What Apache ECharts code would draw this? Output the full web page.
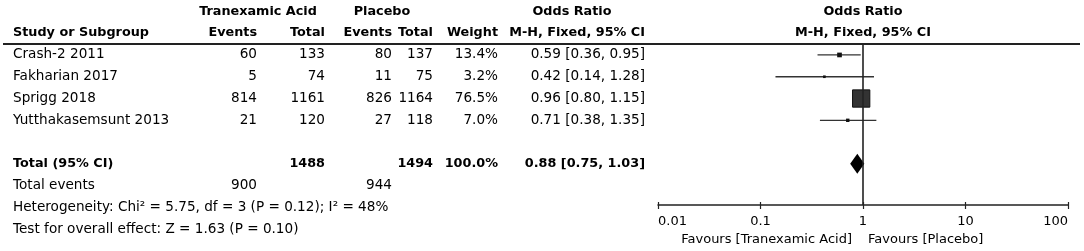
<!DOCTYPE html>
<html>
<head>
<meta charset="utf-8">
<script src="https://cdn.jsdelivr.net/npm/echarts@6/dist/echarts.min.js"></script>
<style>
html,body{margin:0;padding:0;background:#fff;}
#chart{width:1084px;height:251px;}
</style>
</head>
<body>
<div id="chart"></div>
<script>
// ---------- data ----------
const studies = ['Crash-2 2011', 'Fakharian 2017', 'Sprigg 2018', 'Yutthakasemsunt 2013'];
const txaEvents = [60, 5, 814, 21];
const txaTotal = [133, 74, 1161, 120];
const plaEvents = [80, 11, 826, 27];
const plaTotal = [137, 75, 1164, 118];
const weights = [13.4, 3.2, 76.5, 7.0];
const orValues = [0.59, 0.42, 0.96, 0.71];
const ciLow = [0.36, 0.14, 0.80, 0.38];
const ciHigh = [0.95, 1.28, 1.15, 1.35];
const totalLabel = 'Total (95% CI)';
const totalTxa = 1488;
const totalPla = 1494;
const totalWeight = 100.0;
const totalOR = [0.88, 0.75, 1.03];
const totalEventsTxa = 900;
const totalEventsPla = 944;
const heterogeneityText = 'Heterogeneity: Chi\u00b2 = 5.75, df = 3 (P = 0.12); I\u00b2 = 48%';
const overallText = 'Test for overall effect: Z = 1.63 (P = 0.10)';
const xTickLabels = ['0.01', '0.1', '1', '10', '100'];
const favoursLeft = 'Favours [Tranexamic Acid]';
const favoursRight = 'Favours [Placebo]';

// ---------- layout ----------
const FONT = '"DejaVu Sans", sans-serif';
const FS = 13.6, FSB = 12.8, FS_PLOT = 13;
const COL = { study: 13, txaE: 257, txaT: 325, plaE: 392, plaT: 433, wt: 498, or: 645, plotMid: 863, favL: 852, favR: 868 };
const ROW_TOTAL = 5, ROW_TE = 6, ROW_HET = 7, ROW_TEST = 8, ROW_FAV = 8.47;
const Y_MIN = -2.5, Y_MAX_TABLE = 9;
const PX_PER_ROW = 250.5 / (Y_MAX_TABLE - Y_MIN);
const PLOT_BOTTOM = 46;
const Y_MAX_PLOT = Y_MIN + (251 - 0.5 - PLOT_BOTTOM) / PX_PER_ROW;

const f2 = v => v.toFixed(2);
const orText = (o, l, h) => `${f2(o)} [${f2(l)}, ${f2(h)}]`;

const cells = [];
function cell(x, row, text, align, bold, size) { cells.push({ x, row, text: String(text), align, bold: !!bold, size }); }
// headers
cell(258, -2, 'Tranexamic Acid', 'center', true);
cell(382, -2, 'Placebo', 'center', true);
cell(572, -2, 'Odds Ratio', 'center', true);
cell(COL.plotMid, -2, 'Odds Ratio', 'center', true);
cell(COL.study, -1, 'Study or Subgroup', 'left', true);
cell(COL.txaE, -1, 'Events', 'right', true);
cell(COL.txaT, -1, 'Total', 'right', true);
cell(COL.plaE, -1, 'Events', 'right', true);
cell(COL.plaT, -1, 'Total', 'right', true);
cell(COL.wt, -1, 'Weight', 'right', true);
cell(COL.or, -1, 'M-H, Fixed, 95% CI', 'right', true);
cell(COL.plotMid, -1, 'M-H, Fixed, 95% CI', 'center', true);
studies.forEach((s, i) => {
  cell(COL.study, i, s, 'left');
  cell(COL.txaE, i, txaEvents[i], 'right');
  cell(COL.txaT, i, txaTotal[i], 'right');
  cell(COL.plaE, i, plaEvents[i], 'right');
  cell(COL.plaT, i, plaTotal[i], 'right');
  cell(COL.wt, i, weights[i].toFixed(1) + '%', 'right');
  cell(COL.or, i, orText(orValues[i], ciLow[i], ciHigh[i]), 'right');
});
cell(COL.study, ROW_TOTAL, totalLabel, 'left', true);
cell(COL.txaT, ROW_TOTAL, totalTxa, 'right', true);
cell(COL.plaT, ROW_TOTAL, totalPla, 'right', true);
cell(COL.wt, ROW_TOTAL, totalWeight.toFixed(1) + '%', 'right', true);
cell(COL.or, ROW_TOTAL, orText(totalOR[0], totalOR[1], totalOR[2]), 'right', true);
cell(COL.study, ROW_TE, 'Total events', 'left');
cell(COL.txaE, ROW_TE, totalEventsTxa, 'right');
cell(COL.plaE, ROW_TE, totalEventsPla, 'right');
cell(COL.study, ROW_HET, heterogeneityText, 'left');
cell(COL.study, ROW_TEST, overallText, 'left');
cell(COL.favL, ROW_FAV, favoursLeft, 'right', false, FS_PLOT);
cell(COL.favR, ROW_FAV, favoursRight, 'left', false, FS_PLOT);

const chart = echarts.init(document.getElementById('chart'), null, { renderer: 'canvas' });

const studyData = studies.map((s, i) => [orValues[i], i, ciLow[i], ciHigh[i], weights[i]]);

const option = {
  backgroundColor: '#fff',
  animation: false,
  grid: [
    { left: 0, right: 0, top: 0.5, bottom: 0 },
    { left: 658, right: 16, top: 0.5, bottom: PLOT_BOTTOM }
  ],
  xAxis: [
    { gridIndex: 0, type: 'value', min: 0, max: 1084, show: false },
    {
      gridIndex: 1, type: 'log', logBase: 10, min: 0.01, max: 100, position: 'bottom',
      axisLine: { show: true, onZero: false, lineStyle: { color: '#222', width: 1.5 } },
      axisTick: { show: true, length: 4, lineStyle: { color: '#222', width: 1.2 } },
      splitLine: { show: false },
      axisLabel: {
        show: true, margin: 10, color: '#000', fontFamily: FONT, fontSize: FS_PLOT,
        showMinLabel: true, showMaxLabel: true, alignMinLabel: 'left', alignMaxLabel: 'right',
        formatter: v => { const k = Math.round(Math.log10(v)) + 2; return xTickLabels[k] !== undefined ? xTickLabels[k] : ''; }
      }
    },
    {
      gridIndex: 1, type: 'log', logBase: 10, min: 0.01, max: 100, position: 'bottom', offset: 0,
      axisLine: { show: false, onZero: false },
      axisTick: { show: true, inside: true, length: 3, lineStyle: { color: '#222', width: 1.2 } },
      axisLabel: { show: false }, splitLine: { show: false }
    }
  ],
  yAxis: [
    { gridIndex: 0, type: 'value', min: Y_MIN, max: Y_MAX_TABLE, inverse: true, show: false },
    { gridIndex: 1, type: 'value', min: Y_MIN, max: Y_MAX_PLOT, inverse: true, show: false }
  ],
  series: [
    {
      type: 'custom', xAxisIndex: 0, yAxisIndex: 0, silent: true,
      data: cells.map(c => [c.x, c.row]),
      renderItem: (params, api) => {
        const c = cells[params.dataIndex];
        const p = api.coord([c.x, c.row]);
        const size = c.size || (c.bold ? FSB : FS);
        return {
          type: 'text', x: p[0], y: p[1],
          style: { text: c.text, align: c.align, verticalAlign: 'middle', fill: '#000',
                   font: `${c.bold ? 'bold' : 'normal'} ${size}px ${FONT}` }
        };
      }
    },
    {
      // header rule
      type: 'custom', xAxisIndex: 0, yAxisIndex: 0, silent: true,
      data: [[3, -0.5, 1080]],
      renderItem: (params, api) => {
        const a = api.coord([api.value(0), api.value(1)]);
        const b = api.coord([api.value(2), api.value(1)]);
        return { type: 'line', shape: { x1: a[0], y1: a[1], x2: b[0], y2: b[1] }, style: { stroke: '#222', lineWidth: 2 } };
      }
    },
    {
      type: 'custom', xAxisIndex: 1, yAxisIndex: 1, silent: true, clip: false,
      data: studyData,
      renderItem: (params, api) => {
        const c = api.coord([api.value(0), api.value(1)]);
        const l = api.coord([api.value(2), api.value(1)]);
        const h = api.coord([api.value(3), api.value(1)]);
        const w = api.value(4);
        const sz = 2 + 0.2 * w;
        return {
          type: 'group', children: [
            { type: 'line', shape: { x1: l[0], y1: l[1], x2: h[0], y2: h[1] }, style: { stroke: '#333', lineWidth: 1.3 } },
            { type: 'rect', shape: { x: c[0] - sz / 2, y: c[1] - sz / 2, width: sz, height: sz },
              style: { fill: w > 20 ? '#333' : '#111', stroke: '#111', lineWidth: w > 20 ? 1 : 0 } }
          ]
        };
      },
      markLine: {
        silent: true, symbol: 'none', label: { show: false },
        lineStyle: { color: '#222', width: 1.6, type: 'solid' },
        data: [[{ coord: [1, -0.5] }, { coord: [1, Y_MAX_PLOT] }]]
      }
    },
    {
      type: 'custom', xAxisIndex: 1, yAxisIndex: 1, silent: true,
      data: [[totalOR[0], ROW_TOTAL, totalOR[1], totalOR[2]]],
      renderItem: (params, api) => {
        const c = api.coord([api.value(0), api.value(1)]);
        const l = api.coord([api.value(2), api.value(1)]);
        const h = api.coord([api.value(3), api.value(1)]);
        const hh = 10;
        return {
          type: 'polygon',
          shape: { points: [[l[0], c[1]], [c[0], c[1] - hh], [h[0], c[1]], [c[0], c[1] + hh]] },
          style: { fill: '#000' }
        };
      }
    }
  ]
};
chart.setOption(option);
</script>
</body>
</html>
